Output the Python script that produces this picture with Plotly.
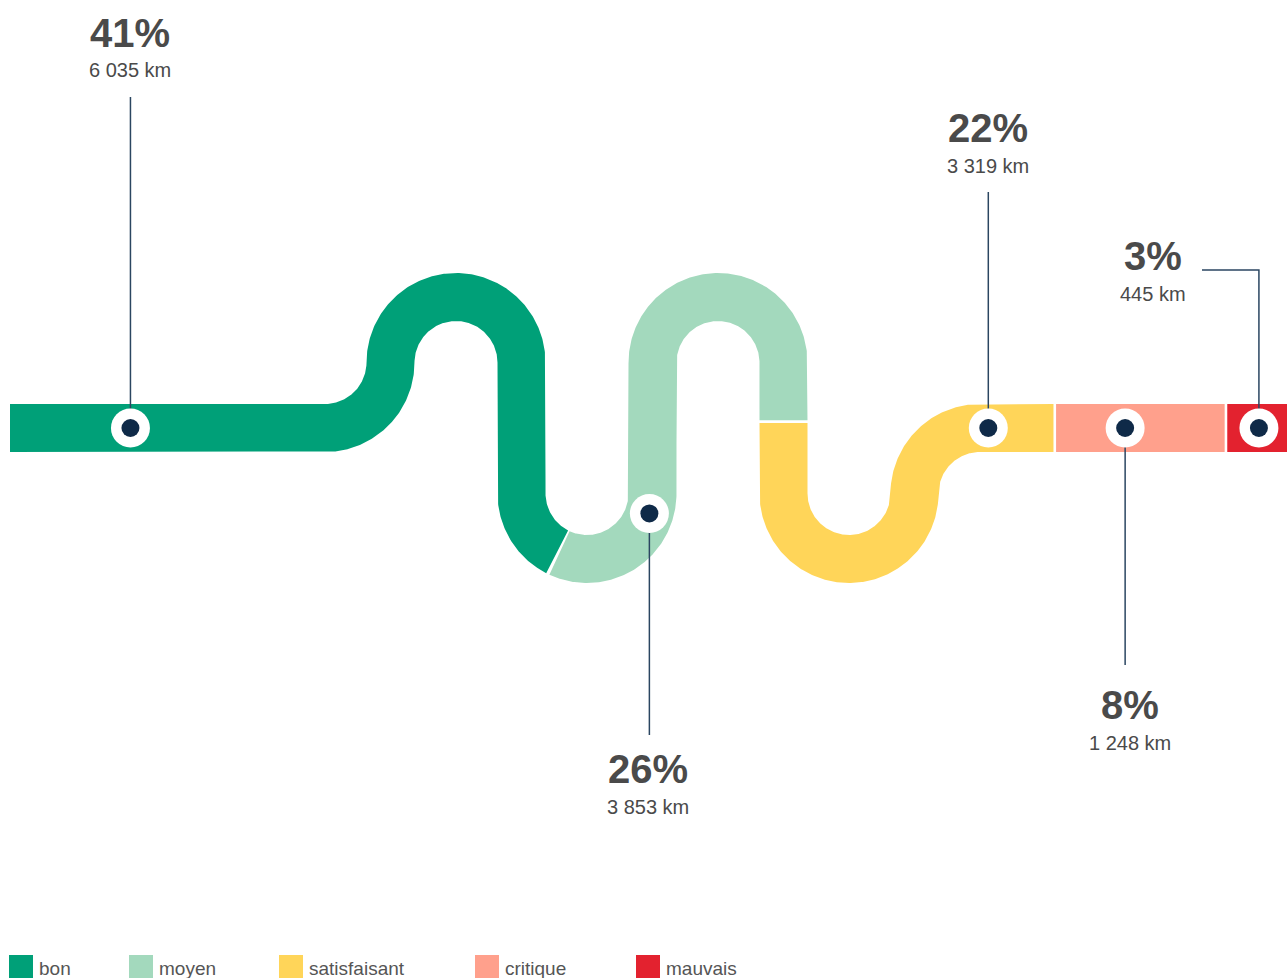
import numpy as np
import plotly.graph_objects as go

# ---------------- data ----------------
categories = ["bon", "moyen", "satisfaisant", "critique", "mauvais"]
km = [6035, 3853, 3319, 1248, 445]
pct_labels = ["41%", "26%", "22%", "8%", "3%"]
km_labels = ["6 035 km", "3 853 km", "3 319 km", "1 248 km", "445 km"]
colors = ["#00a078", "#a3d9bd", "#ffd559", "#ffa08c", "#e3222f"]

# ---------------- layout constants ----------------
W, H = 1287, 978
HALF = 24          # half width of the road
R = 65.5           # centre-line radius of the bends
Y0 = 428           # y of the horizontal parts
X_START, X_END = 10, 1287
Q1X = 325          # centre x of the first quarter bend
GAP = 1.3          # half gap between coloured segments
NAVY = "#0f2a48"
LINE_C = "#2b4661"
TEXT_C = "#4a4a4a"
FONT = "Liberation Sans, Arial, sans-serif"

# marker position inside each segment (fraction of its length)
marker_frac = [0.1455, 0.2125, 0.854, 0.411, 0.54]
# label layout: centre x, y of % text, y of km text, leader end y
label_x = [130, 648, 988, 1130, 1153]
pct_y = [33, 769, 128, 705, 256]
km_y = [70, 807, 166, 743, 294]
leader_end_y = [97, 735, 192, 665, 270]
elbow_x = {4: 1202}
legend_x = [9, 129, 279, 475, 636]

# ---------------- path geometry ----------------
prims = []
def line(x0, y0, x1, y1):
    prims.append(("L", x0, y0, x1, y1))
def arc(cx, cy, a0, a1):
    prims.append(("A", cx, cy, np.radians(a0), np.radians(a1)))

YT = Y0 - R
YB = Y0 + R
line(X_START, Y0, Q1X, Y0)
arc(Q1X, YT, 90, 0)
xa1 = Q1X + 2 * R
arc(xa1, YT, 180, 360)
line(xa1 + R, YT, xa1 + R, YB)
xb1 = xa1 + 2 * R
arc(xb1, YB, 180, 0)
line(xb1 + R, YB, xb1 + R, YT)
xa2 = xb1 + 2 * R
arc(xa2, YT, 180, 360)
line(xa2 + R, YT, xa2 + R, YB)
xb2 = xa2 + 2 * R
arc(xb2, YB, 180, 0)
xq2 = xb2 + 2 * R
arc(xq2, YB, 180, 270)
line(xq2, Y0, X_END, Y0)

def plen(p):
    if p[0] == "L":
        return float(np.hypot(p[3] - p[1], p[4] - p[2]))
    return R * abs(p[4] - p[3])

lens = [plen(p) for p in prims]
cum = np.concatenate([[0], np.cumsum(lens)])
TOTAL = cum[-1]

def at(s):
    s = min(max(s, 0), TOTAL)
    i = min(int(np.searchsorted(cum, s, side="right") - 1), len(prims) - 1)
    d = s - cum[i]
    p = prims[i]
    if p[0] == "L":
        L = lens[i]
        tx, ty = (p[3] - p[1]) / L, (p[4] - p[2]) / L
        return p[1] + tx * d, p[2] + ty * d, tx, ty
    sg = np.sign(p[4] - p[3])
    a = p[3] + sg * d / R
    x = p[1] + R * np.cos(a)
    y = p[2] + R * np.sin(a)
    return x, y, -sg * np.sin(a), sg * np.cos(a)

fig = go.Figure()

tot_km = sum(km)
bounds = np.concatenate([[0], np.cumsum(km)]) / tot_km * TOTAL
for k in range(len(km)):
    sa = bounds[k] + (GAP if k > 0 else 0)
    sb = bounds[k + 1] - (GAP if k < len(km) - 1 else 0)
    ss = list(np.linspace(sa, sb, max(int((sb - sa) / 1.0), 2)))
    ss += [c for c in cum if sa < c < sb]
    ss = sorted(ss)
    lx, ly, rx, ry = [], [], [], []
    for s in ss:
        x, y, tx, ty = at(s)
        nx, ny = -ty, tx
        lx.append(x + HALF * nx); ly.append(y + HALF * ny)
        rx.append(x - HALF * nx); ry.append(y - HALF * ny)
    px = lx + rx[::-1] + [lx[0]]
    py = ly + ry[::-1] + [ly[0]]
    fig.add_trace(go.Scatter(x=px, y=py, mode="lines", fill="toself",
                             fillcolor=colors[k], line=dict(width=0, color=colors[k]),
                             hoverinfo="skip", showlegend=False))

# leader lines, markers and labels
mx, my = [], []
for k in range(len(km)):
    s = bounds[k] + marker_frac[k] * (bounds[k + 1] - bounds[k])
    x, y, _, _ = at(s)
    mx.append(x); my.append(y)
    if k in elbow_x:
        lxs = [x, x, elbow_x[k]]
        lys = [y, leader_end_y[k], leader_end_y[k]]
    else:
        lxs = [x, x]
        lys = [y, leader_end_y[k]]
    fig.add_trace(go.Scatter(x=lxs, y=lys, mode="lines",
                             line=dict(color=LINE_C, width=1.5),
                             hoverinfo="skip", showlegend=False))
    fig.add_annotation(x=label_x[k], y=pct_y[k], text="<b>%s</b>" % pct_labels[k],
                       showarrow=False, xanchor="center", yanchor="middle",
                       font=dict(family=FONT, size=40, color=TEXT_C))
    fig.add_annotation(x=label_x[k], y=km_y[k], text=km_labels[k],
                       showarrow=False, xanchor="center", yanchor="middle",
                       font=dict(family=FONT, size=20, color=TEXT_C))

fig.add_trace(go.Scatter(x=mx, y=my, mode="markers",
                         marker=dict(size=39, color="white", line=dict(width=0)),
                         hoverinfo="skip", showlegend=False))
fig.add_trace(go.Scatter(x=mx, y=my, mode="markers",
                         marker=dict(size=18, color=NAVY, line=dict(width=0)),
                         hoverinfo="skip", showlegend=False))

# legend
for k, cat in enumerate(categories):
    fig.add_shape(type="rect", x0=legend_x[k], x1=legend_x[k] + 24, y0=955, y1=980,
                  fillcolor=colors[k], line=dict(width=0), layer="above")
    fig.add_annotation(x=legend_x[k] + 28, y=968, text=cat, showarrow=False,
                       xanchor="left", yanchor="middle",
                       font=dict(family=FONT, size=19, color="#555555"))

fig.update_layout(
    width=W, height=H, margin=dict(l=0, r=0, t=0, b=0),
    paper_bgcolor="white", plot_bgcolor="white", showlegend=False,
    xaxis=dict(range=[0, W], visible=False, fixedrange=True),
    yaxis=dict(range=[H, 0], visible=False, fixedrange=True),
)
fig.write_html("out.html", config={"displayModeBar": False})
